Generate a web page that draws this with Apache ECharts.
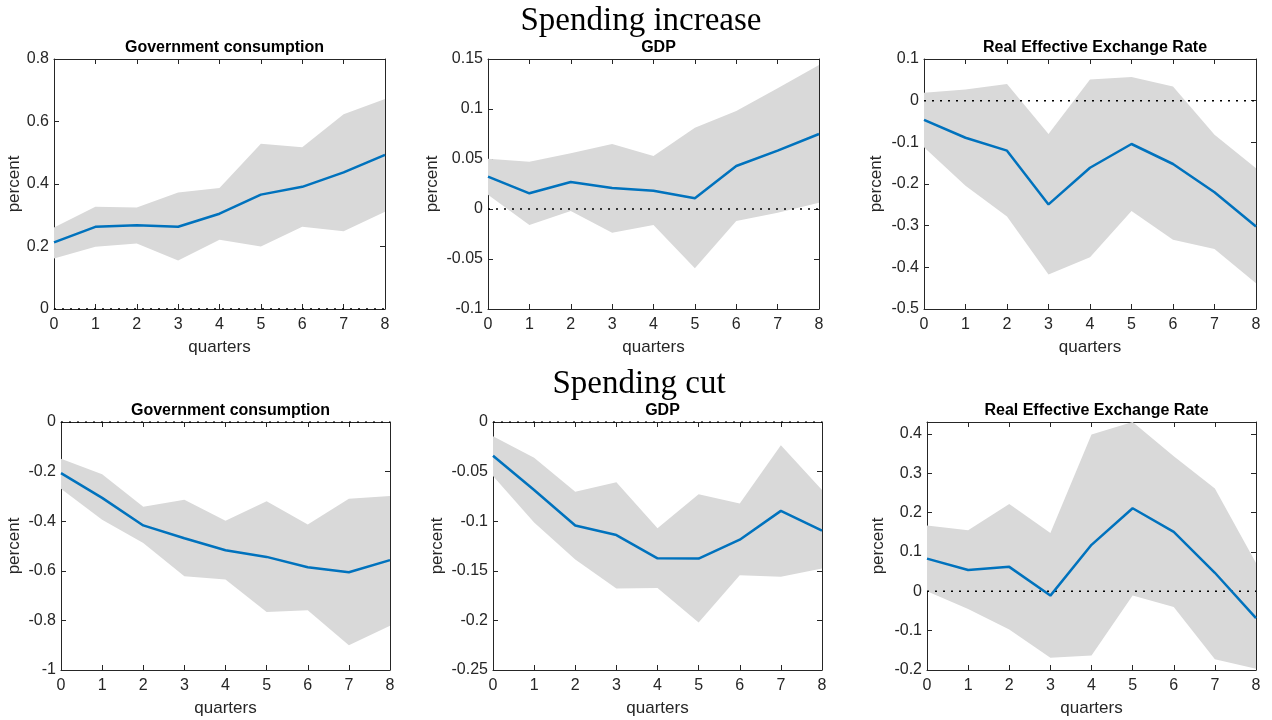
<!DOCTYPE html>
<html><head><meta charset="utf-8">
<script src="https://cdn.jsdelivr.net/npm/echarts@6/dist/echarts.min.js"></script>
<style>html,body{margin:0;padding:0;background:#fff}#c{width:1272px;height:720px}</style>
</head><body><div id="c"></div>
<script>
const quarters = [0,1,2,3,4,5,6,7,8];
const rowTitles = ['Spending increase', 'Spending cut'];
const panelTitles = ['Government consumption', 'GDP', 'Real Effective Exchange Rate'];

// Spending increase
const incGovMean  = [0.213,0.263,0.268,0.263,0.305,0.366,0.391,0.437,0.493];
const incGovUpper = [0.261,0.327,0.325,0.373,0.387,0.529,0.518,0.623,0.672];
const incGovLower = [0.162,0.199,0.210,0.155,0.222,0.200,0.263,0.249,0.311];

const incGdpMean  = [0.0323,0.0157,0.027,0.021,0.0183,0.0107,0.043,0.0583,0.075];
const incGdpUpper = [0.0503,0.0473,0.0557,0.065,0.053,0.0813,0.098,0.1207,0.144];
const incGdpLower = [0.0143,-0.016,-0.002,-0.0237,-0.016,-0.0593,-0.012,-0.0037,0.0063];

const incReerMean  = [-0.046,-0.089,-0.120,-0.249,-0.161,-0.104,-0.152,-0.220,-0.302];
const incReerUpper = [0.019,0.027,0.040,-0.080,0.051,0.057,0.034,-0.082,-0.162];
const incReerLower = [-0.112,-0.204,-0.278,-0.417,-0.376,-0.265,-0.334,-0.356,-0.438];

// Spending cut
const cutGovMean  = [-0.206,-0.306,-0.417,-0.469,-0.517,-0.544,-0.586,-0.606,-0.557];
const cutGovUpper = [-0.148,-0.211,-0.342,-0.314,-0.398,-0.320,-0.413,-0.309,-0.298];
const cutGovLower = [-0.269,-0.394,-0.488,-0.622,-0.635,-0.766,-0.759,-0.900,-0.822];

const cutGdpMean  = [-0.0341,-0.0685,-0.1043,-0.114,-0.1374,-0.1377,-0.1186,-0.0896,-0.1096];
const cutGdpUpper = [-0.0144,-0.0361,-0.0702,-0.0608,-0.107,-0.0729,-0.0822,-0.0234,-0.0685];
const cutGdpLower = [-0.0545,-0.1013,-0.1387,-0.1678,-0.1674,-0.2022,-0.1544,-0.1561,-0.1477];

const cutReerMean  = [0.083,0.054,0.062,-0.011,0.118,0.211,0.151,0.047,-0.068];
const cutReerUpper = [0.167,0.155,0.222,0.148,0.398,0.43,0.343,0.261,0.072];
const cutReerLower = [0.0,-0.045,-0.097,-0.169,-0.163,-0.011,-0.040,-0.173,-0.197];

// y-axis ranges [min, max, interval]
const yRanges = [
  [0, 0.8, 0.2], [-0.1, 0.15, 0.05], [-0.5, 0.1, 0.1],
  [-1, 0, 0.2], [-0.25, 0, 0.05], [-0.2, 0.43, 0.1]
];

const panels = [
  {mean: incGovMean, up: incGovUpper, lo: incGovLower, grid: {left: 54, top: 59, width: 331, height: 250}, nameGap: 31},
  {mean: incGdpMean, up: incGdpUpper, lo: incGdpLower, grid: {left: 488, top: 59, width: 331, height: 250}, nameGap: 47},
  {mean: incReerMean, up: incReerUpper, lo: incReerLower, grid: {left: 924, top: 59, width: 332, height: 250}, nameGap: 39},
  {mean: cutGovMean, up: cutGovUpper, lo: cutGovLower, grid: {left: 61, top: 422, width: 329, height: 248}, nameGap: 38},
  {mean: cutGdpMean, up: cutGdpUpper, lo: cutGdpLower, grid: {left: 493, top: 422, width: 329, height: 248}, nameGap: 47},
  {mean: cutReerMean, up: cutReerUpper, lo: cutReerLower, grid: {left: 927, top: 422, width: 329, height: 248}, nameGap: 40}
];

const axisColor = '#262626';
const font = 'Liberation Sans, Arial, Helvetica, sans-serif';
const serif = 'Liberation Serif, DejaVu Serif, serif';

const grids = [], xAxes = [], yAxes = [], series = [], titles = [];

titles.push({text: rowTitles[0], left: 636, top: 0, textAlign: 'center',
  textStyle: {fontFamily: serif, fontSize: 33, fontWeight: 'normal', color: '#000'}});
titles.push({text: rowTitles[1], left: 634, top: 363, textAlign: 'center',
  textStyle: {fontFamily: serif, fontSize: 33, fontWeight: 'normal', color: '#000'}});

panels.forEach((p, i) => {
  const g = p.grid;
  grids.push({left: g.left, top: g.top, width: g.width, height: g.height, show: false,
    containLabel: false, outerBoundsMode: 'none'});
  titles.push({text: panelTitles[i % 3], left: g.left + g.width / 2, top: g.top - 24, textAlign: 'center',
    textStyle: {fontFamily: font, fontSize: 16, fontWeight: 'bold', color: '#000'}});
  const [ymin, ymax, yint] = yRanges[i];
  const common = {gridIndex: i, splitLine: {show: false}};
  xAxes.push(Object.assign({}, common, {
    type: 'value', min: 0, max: 8, interval: 1, position: 'bottom',
    axisLine: {show: true, onZero: false, lineStyle: {color: axisColor, width: 1}},
    axisTick: {show: true, inside: true, length: 5, lineStyle: {color: axisColor}},
    axisLabel: {color: axisColor, fontSize: 16, fontFamily: font, margin: 8},
    name: 'quarters', nameLocation: 'middle', nameGap: 30,
    nameTextStyle: {color: axisColor, fontSize: 17, fontFamily: font}
  }));
  xAxes.push(Object.assign({}, common, {
    type: 'value', min: 0, max: 8, interval: 1, position: 'top',
    axisLine: {show: true, onZero: false, lineStyle: {color: axisColor, width: 1}},
    axisTick: {show: true, inside: true, length: 5, lineStyle: {color: axisColor}},
    axisLabel: {show: false}
  }));
  yAxes.push(Object.assign({}, common, {
    type: 'value', min: ymin, max: ymax, interval: yint, position: 'left',
    axisLine: {show: true, onZero: false, lineStyle: {color: axisColor, width: 1}},
    axisTick: {show: true, inside: true, length: 5, lineStyle: {color: axisColor}},
    axisLabel: {color: axisColor, fontSize: 16, fontFamily: font, margin: 5, showMaxLabel: i !== 5},
    name: 'percent', nameLocation: 'middle', nameGap: p.nameGap, nameRotate: 90,
    nameTextStyle: {color: axisColor, fontSize: 17, fontFamily: font}
  }));
  yAxes.push(Object.assign({}, common, {
    type: 'value', min: ymin, max: ymax, interval: yint, position: 'right',
    axisLine: {show: true, onZero: false, lineStyle: {color: axisColor, width: 1}},
    axisTick: {show: true, inside: true, length: 5, lineStyle: {color: axisColor}},
    axisLabel: {show: false}
  }));
  const xi = i * 2, yi = i * 2;
  const up = p.up, lo = p.lo;
  series.push({
    type: 'custom', xAxisIndex: xi, yAxisIndex: yi, silent: true, z: 1,
    data: [[0, up[0]]],
    clip: true,
    renderItem: function (params, api) {
      const pts = [];
      quarters.forEach((q, k) => pts.push(api.coord([q, up[k]])));
      for (let k = quarters.length - 1; k >= 0; k--) pts.push(api.coord([quarters[k], lo[k]]));
      return {type: 'polygon', shape: {points: pts}, style: {fill: '#d9d9d9', stroke: null}};
    }
  });
  series.push({type: 'line', xAxisIndex: xi, yAxisIndex: yi,
    data: [[0, 0], [8, 0]], symbol: 'none', lineStyle: {color: '#000', width: 1.5, type: [2, 6]}, silent: true, z: 2});
  series.push({type: 'line', xAxisIndex: xi, yAxisIndex: yi,
    data: quarters.map((q, k) => [q, p.mean[k]]), symbol: 'none', lineStyle: {color: '#0072BD', width: 2.5}, z: 3});
});

const chart = echarts.init(document.getElementById('c'), null, {renderer: 'canvas'});
chart.setOption({
  animation: false,
  backgroundColor: '#fff',
  title: titles,
  grid: grids,
  xAxis: xAxes,
  yAxis: yAxes,
  series: series
});
</script>
</body></html>
